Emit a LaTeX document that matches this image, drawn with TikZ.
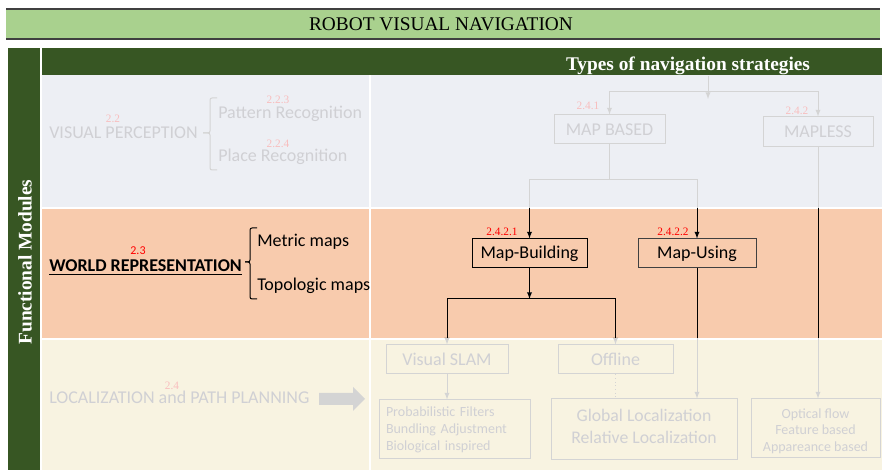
\documentclass[tikz,border=0pt]{standalone}
\usepackage{fontspec}
\setmainfont{Liberation Serif}
\newfontfamily\bodyfont{Carlito}
\usetikzlibrary{positioning}

\definecolor{barlight}{RGB}{169,209,142}
\definecolor{bardark}{RGB}{55,86,35}
\definecolor{barline}{RGB}{64,64,64}
\definecolor{rowtop}{RGB}{237,239,244}
\definecolor{rowmid}{RGB}{248,203,173}
\definecolor{rowbot}{RGB}{248,243,225}
\definecolor{fadetxt}{RGB}{208,208,212}
\definecolor{fadeline}{RGB}{212,212,212}
\definecolor{fadered}{RGB}{248,190,190}

\def\px{0.75pt}

\tikzset{
  bigtext/.style={font=\fontsize{14.5}{16}\selectfont, inner sep=0pt},
  bodytext/.style={font=\bodyfont\fontsize{13.5}{16}\selectfont, inner sep=0pt},
  faded/.style={bodytext, text=fadetxt},
  secnum/.style={font=\fontsize{8.5}{9}\selectfont, inner sep=0pt},
  fadebox/.style={draw=fadeline, line width=0.75pt, text=fadetxt, inner sep=0pt, align=center},
  darkbox/.style={draw=black, line width=0.75pt, inner sep=0pt, align=center},
  link/.style={draw=fadeline, line width=0.75pt},
}

% connectors (drawn twice: faded, then dark in the middle row)
\newcommand{\navlinks}{%
  \draw[link,->] (strat_top) -- (strat_tip);
  \draw[link,->] (fork_top) -| (map_based.north);
  \draw[link,->] (fork_top) -| (map_less.north);
  \draw[link] (map_based.south) -- (fork_mid);
  \draw[link,->] (fork_mid) -| (map_building.north);
  \draw[link,->] (fork_mid) -| (map_using.north);
  \draw[link,->] (map_building.south) -- (fork_low);
  \draw[link,->] (fork_low) -| (visual_slam.north);
  \draw[link,->] (fork_low) -| (offline.north);
  \draw[link,->] (visual_slam.south) -- (visual_slam.south |- prob_box.north);
  \draw[link,dotted] (offline.south) -- (offline.south |- global_box.north);
  \draw[link,->] (map_using.south) -- (map_using.south |- global_box.north);
  \draw[link,->] (map_less.south) -- (map_less.south |- optical_box.north);
}

\begin{document}
\begin{tikzpicture}[x=\px, y=\px, >=latex]
    \useasboundingbox (0,0) rectangle (882,470);

    % 1. BARRE
    \fill[barlight] (6,431) rectangle (880,461);
    \draw[barline, line width=1.2pt] (6,461) -- (880,461);
    \draw[barline, line width=1.2pt] (6,431) -- (880,431);
    \node[bigtext] (title_label) at (441,446) {ROBOT VISUAL NAVIGATION};

    \fill[bardark] (8,0) rectangle (40,422);
    \fill[bardark] (42,395) rectangle (882,422);
    \node[bigtext, text=white, font=\bfseries\fontsize{14.5}{16}\selectfont] (strategies_label) at (688,404) {Types of navigation strategies};
    \node[bigtext, text=white, rotate=90, font=\bfseries\fontsize{14.5}{16}\selectfont] (modules_label) at (25,208) {Functional Modules};

    % 2. RIGHE
    \fill[rowtop] (42,263) rectangle (882,395);
    \fill[rowmid] (42,132) rectangle (882,261);
    \fill[rowbot] (42,0) rectangle (882,130);
    \draw[white, line width=1.2pt] (370,0) -- (370,395);

    % 3. VISUAL PERCEPTION
    \node[faded, anchor=base west] (perception_label) at (49,331) {VISUAL PERCEPTION};
    \node[secnum, text=fadered] (perception_num) at (113,351) {2.2};
    \draw[fadeline, line width=0.75pt, rounded corners=1.5] (217,372) -| (210,337) -- (203,337);
    \draw[fadeline, line width=0.75pt, rounded corners=1.5] (203,337) -- (210,337) |- (217,300);
    \node[faded, anchor=base west] (pattern_label) at (218,351) {Pattern Recognition};
    \node[secnum, text=fadered] (pattern_num) at (278,370) {2.2.3};
    \node[faded, anchor=base west] (place_label) at (218,308) {Place Recognition};
    \node[secnum, text=fadered] (place_num) at (278,326) {2.2.4};

    \node[fadebox, bodytext, text=fadetxt, minimum width=111*\px, minimum height=29*\px] (map_based) at (609.5,340.5) {MAP BASED};
    \node[secnum, text=fadered] (map_based_num) at (588,364) {2.4.1};
    \node[fadebox, bodytext, text=fadetxt, minimum width=110*\px, minimum height=30*\px] (map_less) at (818,338) {MAPLESS};
    \node[secnum, text=fadered] (map_less_num) at (797,359) {2.4.2};

    % 4. WORLD REPRESENTATION
    \node[bodytext, anchor=base west, font=\bodyfont\bfseries\fontsize{13.5}{16}\selectfont] (world_label) at (49,198) {\underline{WORLD REPRESENTATION}};
    \node[inner sep=0pt, text=red, font=\bodyfont\fontsize{9}{10}\selectfont] (world_num) at (138,219) {2.3};
    \draw[black, line width=0.75pt, rounded corners=1.5] (257,242) -| (250,208) -- (245,208);
    \draw[black, line width=0.75pt, rounded corners=1.5] (245,208) -- (250,208) |- (257,171);
    \node[bodytext, anchor=base west] (metric_label) at (257,223) {Metric maps};
    \node[bodytext, anchor=base west] (topologic_label) at (257,179) {Topologic maps};

    \node[darkbox, bodytext, minimum width=115*\px, minimum height=29*\px] (map_building) at (529.5,216.5) {Map-Building};
    \node[secnum, text=red] (map_building_num) at (502,238) {2.4.2.1};
    \node[darkbox, bodytext, draw=black!75, minimum width=118*\px, minimum height=29*\px] (map_using) at (697,216.5) {Map-Using};
    \node[secnum, text=red] (map_using_num) at (673,238) {2.4.2.2};

    % 5. LOCALIZATION and PATH PLANNING
    \node[faded, anchor=base west] (local_label) at (49,66) {LOCALIZATION and PATH PLANNING};
    \node[secnum, text=fadered] (local_num) at (172,84) {2.4};
    \fill[fadeline] (319,77) -- (353,77) -- (353,83) -- (365,71) -- (353,59) -- (353,65) -- (319,65) -- cycle;

    \node[fadebox, bodytext, minimum width=122*\px, minimum height=29*\px] (visual_slam) at (447,110.5) {Visual SLAM};
    \node[fadebox, bodytext, minimum width=115*\px, minimum height=29*\px] (offline) at (615.5,110.5) {Offline};
    \node[fadebox, align=left, text width=137*\px, inner xsep=7*\px, minimum height=59*\px, font=\bodyfont\fontsize{10.5}{12.7}\selectfont] (prob_box) at (454.5,40.5) {Probabilistic Filters\\Bundling Adjustment\\Biological inspired\rule[-1.5pt]{0pt}{0pt}};
    \node[fadebox, minimum width=186*\px, minimum height=61*\px, font=\bodyfont\fontsize{13.3}{16.5}\selectfont] (global_box) at (644,40.5) {Global Localization\\Relative Localization\rule[-5pt]{0pt}{0pt}};
    \node[fadebox, minimum width=129*\px, minimum height=59*\px, font=\bodyfont\fontsize{10.5}{12.4}\selectfont] (optical_box) at (815.5,41.5) {\rule{0pt}{11pt}Optical flow\\Feature based\\Appareance based};

    % 6. CONNETTORI
    \coordinate (strat_top) at (708,394);
    \coordinate (strat_tip) at (708,371);
    \coordinate (fork_top) at (708,378);
    \coordinate (fork_mid) at (609.5,290);
    \coordinate (fork_low) at (529.5,171);
    \navlinks
    \begin{scope}
        \clip (42,132) rectangle (882,261);
        \tikzset{link/.style={draw=black, line width=0.75pt}}
        \navlinks
    \end{scope}

\end{tikzpicture}
\end{document}
